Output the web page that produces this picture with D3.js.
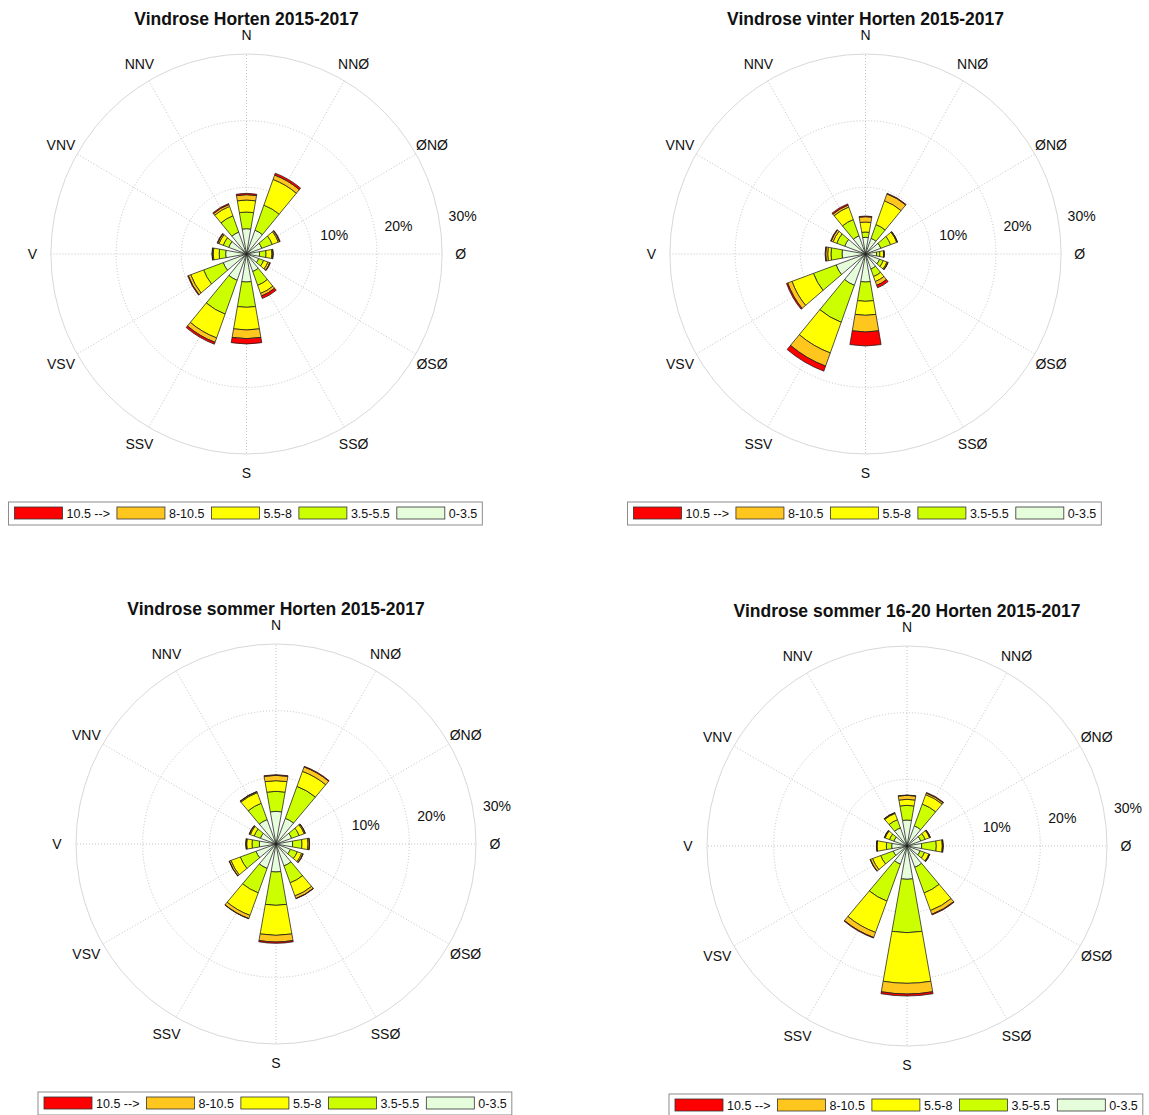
<!DOCTYPE html>
<html>
<head>
<meta charset="utf-8">
<script src="https://cdn.jsdelivr.net/npm/d3@7"></script>
<style>
  body { margin: 0; background: #fff; }
  text { font-family: "Liberation Sans", Arial, sans-serif; fill: #111; }
</style>
</head>
<body>
<script>
// direction sectors (clockwise from north) and their labels
var dirAngles = [0, 30, 60, 90, 120, 150, 180, 210, 240, 270, 300, 330];
var dirLabels = ["N", "NNØ", "ØNØ", "Ø", "ØSØ", "SSØ", "S", "SSV", "VSV", "V", "VNV", "NNV"];

// wind speed classes, inner to outer
var speedClasses = ["0-3.5", "3.5-5.5", "5.5-8", "8-10.5", "10.5 -->"];
var classColors = ["#e6fddb", "#ccff00", "#ffff00", "#ffc61e", "#ff0000"];

var radialTicks = [10, 20, 30];

var titles = [
  "Vindrose Horten 2015-2017",
  "Vindrose vinter Horten 2015-2017",
  "Vindrose sommer Horten 2015-2017",
  "Vindrose sommer 16-20 Horten 2015-2017"
];

// frequency (%) - one row per direction (N .. NNV), one column per speed class
var freqAll = [
  [3.8, 2.5, 1.8, 0.8, 0.2],
  [3.8, 4.0, 4.1, 0.7, 0.3],
  [2.5, 1.7, 1.0, 0.2, 0.1],
  [2.0, 1.0, 0.9, 0.15, 0.05],
  [2.0, 0.8, 0.7, 0.3, 0.1],
  [2.8, 2.2, 1.3, 0.4, 0.4],
  [4.2, 3.8, 3.4, 1.3, 0.8],
  [4.2, 5.4, 3.8, 0.7, 0.3],
  [3.8, 3.2, 2.1, 0.4, 0.1],
  [3.2, 1.0, 0.9, 0.15, 0.05],
  [2.9, 0.9, 0.7, 0.2, 0.1],
  [3.5, 2.6, 1.5, 0.3, 0.15]
];

var freqWinter = [
  [2.5, 0.8, 1.5, 0.8, 0.1],
  [2.5, 2.2, 3.8, 1.1, 0.1],
  [2.5, 1.6, 1.0, 0.1, 0.05],
  [1.7, 0.5, 0.6, 0.05, 0.05],
  [2.3, 0.6, 0.6, 0.15, 0.05],
  [2.4, 1.2, 0.8, 0.6, 0.4],
  [4.2, 2.9, 2.1, 2.5, 2.1],
  [5.0, 5.9, 4.9, 2.1, 0.8],
  [4.8, 3.7, 3.5, 0.7, 0.2],
  [3.6, 1.7, 0.5, 0.3, 0.1],
  [3.4, 1.3, 0.6, 0.3, 0.1],
  [2.9, 2.6, 2.0, 0.3, 0.2]
];

var freqSummer = [
  [4.9, 3.0, 1.6, 0.8, 0.1],
  [4.1, 5.1, 2.4, 0.7, 0.1],
  [2.5, 1.2, 0.8, 0.15, 0.05],
  [2.5, 1.4, 0.9, 0.2, 0.05],
  [2.3, 1.1, 0.7, 0.2, 0.05],
  [3.5, 2.7, 2.1, 0.4, 0.05],
  [4.2, 5.0, 4.5, 1.0, 0.2],
  [3.9, 3.9, 3.6, 0.5, 0.05],
  [3.2, 2.5, 1.5, 0.25, 0.05],
  [2.5, 1.1, 0.8, 0.1, 0.05],
  [2.5, 1.0, 0.6, 0.15, 0.05],
  [3.9, 2.6, 1.7, 0.15, 0.05]
];

var freqSummerEvening = [
  [3.9, 2.2, 0.9, 0.6, 0.05],
  [3.2, 3.5, 1.5, 0.25, 0.1],
  [2.2, 0.7, 0.7, 0.1, 0.05],
  [2.2, 2.2, 0.9, 0.1, 0.05],
  [2.1, 0.7, 0.7, 0.1, 0.05],
  [3.4, 4.1, 2.8, 0.6, 0.1],
  [5.0, 8.0, 7.6, 1.6, 0.3],
  [2.9, 5.9, 5.0, 0.8, 0.1],
  [2.2, 2.0, 1.3, 0.35, 0.05],
  [2.3, 0.8, 1.4, 0.05, 0.05],
  [2.1, 0.7, 0.7, 0.1, 0.05],
  [2.9, 1.3, 1.0, 0.1, 0.05]
];

// panel placement
var panels = [
  {title: titles[0], freq: freqAll,           cx: 246.5, cy: 254, sx: 0.978},
  {title: titles[1], freq: freqWinter,        cx: 865.5, cy: 254, sx: 0.978},
  {title: titles[2], freq: freqSummer,        cx: 276,   cy: 844, sx: 1},
  {title: titles[3], freq: freqSummerEvening, cx: 907,   cy: 846, sx: 1}
];

var svg = d3.select("body")
  .append("svg")
    .attr("width", 1149)
    .attr("height", 1115);

var r = d3.scaleLinear().domain([0, 30]).range([0, 200]);
var rad = function (deg) { return deg * Math.PI / 180; };
var halfWidth = rad(10);
var labelRadius = 219;

var arc = d3.arc();
var stack = d3.stack().keys(d3.range(speedClasses.length));

panels.forEach(function (p) {
  var g = svg.append("g");

  var rose = g.append("g")
    .attr("transform", "translate(" + p.cx + "," + p.cy + ") scale(" + p.sx + ",1)");

  // grid: spokes + rings
  rose.selectAll(".spoke")
    .data(dirAngles)
    .join("line")
      .attr("class", "spoke")
      .attr("x1", 0).attr("y1", 0)
      .attr("x2", function (d) { return r(30) * Math.sin(rad(d)); })
      .attr("y2", function (d) { return -r(30) * Math.cos(rad(d)); })
      .attr("stroke", "#c4c4c4")
      .attr("stroke-dasharray", "1,2")
      .attr("vector-effect", "non-scaling-stroke");

  rose.selectAll(".ring")
    .data(radialTicks)
    .join("circle")
      .attr("class", "ring")
      .attr("r", function (d) { return r(d); })
      .attr("fill", "none")
      .attr("stroke", function (d) { return d === 30 ? "#d8d8d8" : "#c4c4c4"; })
      .attr("stroke-dasharray", function (d) { return d === 30 ? null : "1,2"; })
      .attr("vector-effect", "non-scaling-stroke");

  // petals, stacked by speed class
  var stacked = stack(p.freq);
  rose.append("g")
    .selectAll("g")
    .data(stacked)
    .join("g")
      .attr("fill", function (d, k) { return classColors[k]; })
    .selectAll("path")
    .data(function (s) { return s.map(function (seg, i) { return {seg: seg, i: i}; }); })
    .join("path")
      .attr("d", function (d) {
        var a = rad(dirAngles[d.i]);
        return arc({
          innerRadius: r(d.seg[0]),
          outerRadius: r(d.seg[1]),
          startAngle: a - halfWidth,
          endAngle: a + halfWidth
        });
      })
      .attr("stroke", "#1c1c1c")
      .attr("stroke-width", 0.75)
      .attr("stroke-linejoin", "round")
      .attr("vector-effect", "non-scaling-stroke");

  // direction labels
  g.selectAll(".dir")
    .data(dirAngles)
    .join("text")
      .attr("class", "dir")
      .attr("x", function (d, i) { return p.cx + p.sx * labelRadius * Math.sin(rad(d)); })
      .attr("y", function (d) { return p.cy - labelRadius * Math.cos(rad(d)); })
      .attr("dy", "0.36em")
      .attr("text-anchor", "middle")
      .style("font-size", "14px")
      .text(function (d, i) { return dirLabels[i]; });

  // percent labels
  g.selectAll(".pct")
    .data(radialTicks)
    .join("text")
      .attr("class", "pct")
      .attr("x", function (d) { return p.cx + p.sx * (r(d) * 0.985 + 24); })
      .attr("y", function (d) { return p.cy - (r(d) * 0.142 + 9.5); })
      .attr("dy", "0.36em")
      .attr("text-anchor", "middle")
      .style("font-size", "14px")
      .text(function (d) { return d + "%"; });

  // title
  g.append("text")
    .attr("x", p.cx)
    .attr("y", p.cy - 229)
    .attr("text-anchor", "middle")
    .style("font-size", "17.5px")
    .style("font-weight", "bold")
    .text(p.title);

  // legend (outermost class first)
  var lx = p.cx - 238, ly = p.cy + 248;
  var box = g.append("rect")
    .attr("x", lx).attr("y", ly)
    .attr("height", 23)
    .attr("fill", "#fff")
    .attr("stroke", "#8c8c8c");

  var x = lx + 6;
  d3.range(speedClasses.length - 1, -1, -1).forEach(function (k) {
    g.append("rect")
      .attr("x", x).attr("y", ly + 5)
      .attr("width", 48).attr("height", 12)
      .attr("fill", classColors[k])
      .attr("stroke", "#333")
      .attr("stroke-width", 0.8);
    var t = g.append("text")
      .attr("x", x + 52)
      .attr("y", ly + 11.5)
      .attr("dy", "0.36em")
      .style("font-size", "12.5px")
      .text(speedClasses[k]);
    x = x + 52 + t.node().getComputedTextLength() + 7;
  });
  box.attr("width", x - 7 + 5 - lx);
});
</script>
</body>
</html>
